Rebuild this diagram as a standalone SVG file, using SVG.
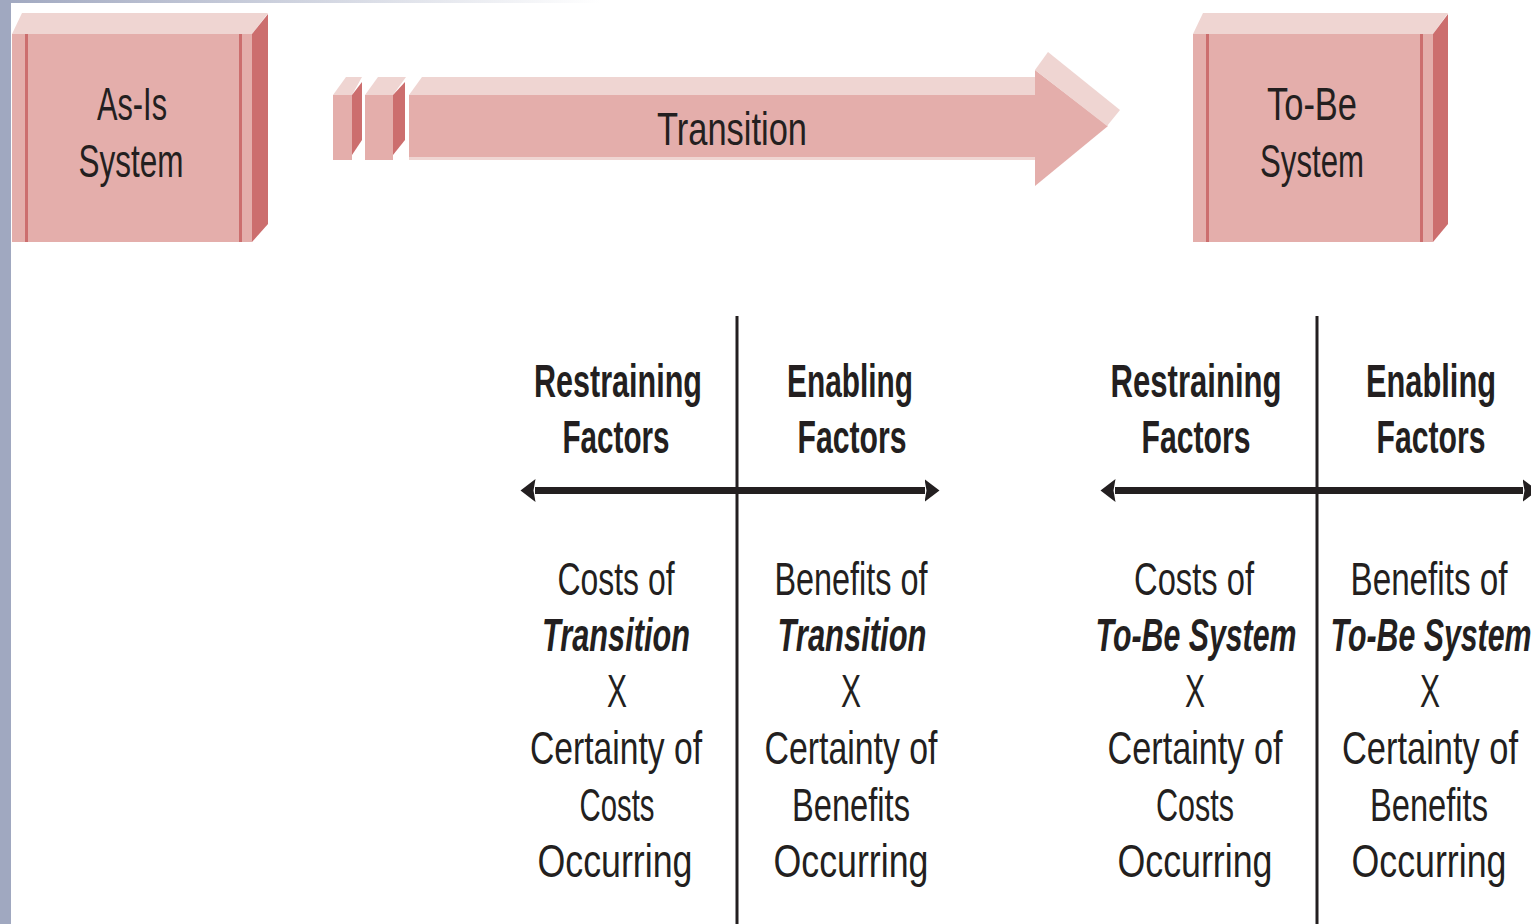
<svg xmlns="http://www.w3.org/2000/svg" width="1531" height="924" viewBox="0 0 1531 924">
<style>
.front{fill:#e4aeab}
.top{fill:#efd5d2}
.side{fill:#cc6e6e}
.inner{stroke:#cc6e6e;stroke-width:3}
.t{font-family:"Liberation Sans",Arial,sans-serif;font-size:46px;fill:#231f20;text-anchor:middle}
.b{font-weight:bold;font-size:47px}
.bi{font-weight:bold;font-style:italic}
.ax{stroke:#231f20;stroke-width:7;fill:none}
.vl{stroke:#231f20;stroke-width:3}
</style>
<defs>
<linearGradient id="topfade" x1="0" y1="0" x2="1" y2="0">
<stop offset="0" stop-color="#a0a8c0"/>
<stop offset="1" stop-color="#ffffff"/>
</linearGradient>
<marker id="ah" markerUnits="userSpaceOnUse" markerWidth="16" markerHeight="24" refX="0.5" refY="11.5" orient="auto-start-reverse" viewBox="0 0 16 23">
<path d="M0,0 L15,11.5 L0,23 L2,11.5 Z" fill="#231f20"/>
</marker>
</defs>
<rect x="0" y="0" width="1531" height="924" fill="#ffffff"/>
<rect x="0" y="0" width="600" height="3" fill="url(#topfade)"/>
<rect x="0" y="0" width="11" height="924" fill="#a0a8c0"/>

<g id="as-is">
<rect class="front" x="12" y="34" width="240" height="208"/>
<polygon class="top" points="12,34 22,13 268,13 252,34"/>
<polygon class="side" points="252,34 268,14 268,224 252,242"/>
<line class="inner" x1="26.5" y1="34" x2="26.5" y2="242"/>
<line class="inner" x1="240.5" y1="34" x2="240.5" y2="242"/>
<text class="t" x="132" y="120" textLength="70" lengthAdjust="spacingAndGlyphs">As-Is</text>
<text class="t" x="131" y="177" textLength="105" lengthAdjust="spacingAndGlyphs">System</text>
</g>

<g id="transition">
<rect class="front" x="333" y="95" width="19" height="65"/>
<polygon class="top" points="333,95 346,77 362,77 352,95"/>
<polygon class="side" points="352,95 362,82 362,140 352,155"/>
<rect class="front" x="365" y="95" width="28" height="65"/>
<polygon class="top" points="365,95 378,77 406,77 393,95"/>
<polygon class="side" points="393,95 405,82 405,140 393,155"/>
<polygon class="top" points="409,95 422,77 1036,77 1036,95"/>
<rect class="front" x="409" y="95" width="627" height="62"/>
<rect class="top" x="409" y="157" width="627" height="3"/>
<polygon class="front" points="1035,70 1108,126 1035,186"/>
<polygon class="top" points="1035,70 1048,52 1120,110 1107,126"/>
<text class="t" x="732" y="145" textLength="150" lengthAdjust="spacingAndGlyphs">Transition</text>
</g>

<g id="to-be">
<rect class="front" x="1193" y="34" width="240" height="208"/>
<polygon class="top" points="1193,34 1203,13 1448,13 1433,34"/>
<polygon class="side" points="1433,34 1448,14 1448,224 1433,242"/>
<line class="inner" x1="1207.5" y1="34" x2="1207.5" y2="242"/>
<line class="inner" x1="1421.5" y1="34" x2="1421.5" y2="242"/>
<text class="t" x="1312" y="120" textLength="90" lengthAdjust="spacingAndGlyphs">To-Be</text>
<text class="t" x="1312" y="177" textLength="104" lengthAdjust="spacingAndGlyphs">System</text>
</g>

<g id="connectors">
<line class="vl" x1="737" y1="316" x2="737" y2="924"/>
<line class="vl" x1="1317" y1="316" x2="1317" y2="924"/>
<line class="ax" x1="535" y1="490.5" x2="925" y2="490.5" marker-start="url(#ah)" marker-end="url(#ah)"/>
<line class="ax" x1="1115" y1="490.5" x2="1523" y2="490.5" marker-start="url(#ah)" marker-end="url(#ah)"/>
</g>

<g id="transition-restraining">
<text class="t b" x="618" y="397" textLength="168" lengthAdjust="spacingAndGlyphs">Restraining</text>
<text class="t b" x="616" y="453" textLength="107" lengthAdjust="spacingAndGlyphs">Factors</text>
<text class="t" x="616" y="595" textLength="117" lengthAdjust="spacingAndGlyphs">Costs of</text>
<text class="t bi" x="616" y="651" textLength="148" lengthAdjust="spacingAndGlyphs">Transition</text>
<text class="t" x="617" y="707" textLength="20" lengthAdjust="spacingAndGlyphs">X</text>
<text class="t" x="616" y="764" textLength="172" lengthAdjust="spacingAndGlyphs">Certainty of</text>
<text class="t" x="617" y="821" textLength="75" lengthAdjust="spacingAndGlyphs">Costs</text>
<text class="t" x="615" y="877" textLength="155" lengthAdjust="spacingAndGlyphs">Occurring</text>
</g>

<g id="transition-enabling">
<text class="t b" x="850" y="397" textLength="126" lengthAdjust="spacingAndGlyphs">Enabling</text>
<text class="t b" x="852" y="453" textLength="109" lengthAdjust="spacingAndGlyphs">Factors</text>
<text class="t" x="851" y="595" textLength="153" lengthAdjust="spacingAndGlyphs">Benefits of</text>
<text class="t bi" x="852" y="651" textLength="149" lengthAdjust="spacingAndGlyphs">Transition</text>
<text class="t" x="851" y="707" textLength="20" lengthAdjust="spacingAndGlyphs">X</text>
<text class="t" x="851" y="764" textLength="173" lengthAdjust="spacingAndGlyphs">Certainty of</text>
<text class="t" x="851" y="821" textLength="118" lengthAdjust="spacingAndGlyphs">Benefits</text>
<text class="t" x="851" y="877" textLength="155" lengthAdjust="spacingAndGlyphs">Occurring</text>
</g>

<g id="tobe-restraining">
<text class="t b" x="1196" y="397" textLength="171" lengthAdjust="spacingAndGlyphs">Restraining</text>
<text class="t b" x="1196" y="453" textLength="109" lengthAdjust="spacingAndGlyphs">Factors</text>
<text class="t" x="1194" y="595" textLength="120" lengthAdjust="spacingAndGlyphs">Costs of</text>
<text class="t bi" x="1196" y="651" textLength="201" lengthAdjust="spacingAndGlyphs">To-Be System</text>
<text class="t" x="1195" y="707" textLength="20" lengthAdjust="spacingAndGlyphs">X</text>
<text class="t" x="1195" y="764" textLength="175" lengthAdjust="spacingAndGlyphs">Certainty of</text>
<text class="t" x="1195" y="821" textLength="78" lengthAdjust="spacingAndGlyphs">Costs</text>
<text class="t" x="1195" y="877" textLength="155" lengthAdjust="spacingAndGlyphs">Occurring</text>
</g>

<g id="tobe-enabling">
<text class="t b" x="1431" y="397" textLength="130" lengthAdjust="spacingAndGlyphs">Enabling</text>
<text class="t b" x="1431" y="453" textLength="109" lengthAdjust="spacingAndGlyphs">Factors</text>
<text class="t" x="1429" y="595" textLength="157" lengthAdjust="spacingAndGlyphs">Benefits of</text>
<text class="t bi" x="1431" y="651" textLength="201" lengthAdjust="spacingAndGlyphs">To-Be System</text>
<text class="t" x="1430" y="707" textLength="20" lengthAdjust="spacingAndGlyphs">X</text>
<text class="t" x="1430" y="764" textLength="176" lengthAdjust="spacingAndGlyphs">Certainty of</text>
<text class="t" x="1429" y="821" textLength="118" lengthAdjust="spacingAndGlyphs">Benefits</text>
<text class="t" x="1429" y="877" textLength="155" lengthAdjust="spacingAndGlyphs">Occurring</text>
</g>
</svg>
